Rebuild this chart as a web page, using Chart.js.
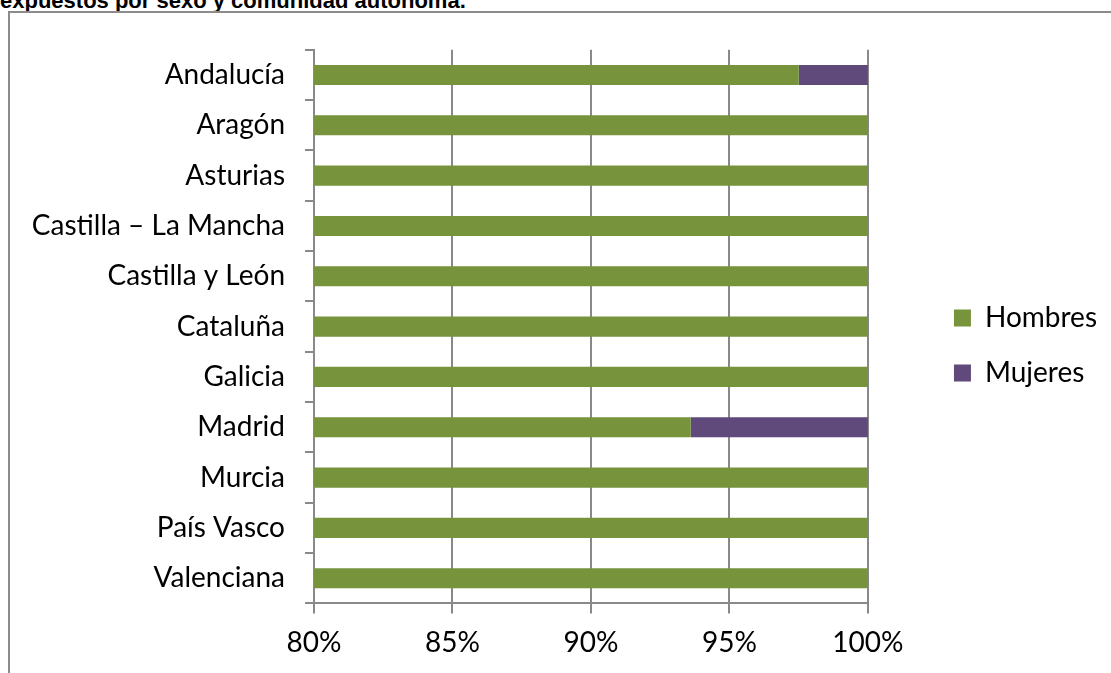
<!DOCTYPE html>
<html lang="es">
<head>
    <meta charset="UTF-8">
    <title>Expuestos por sexo y comunidad autónoma</title>
    <script src="https://cdn.jsdelivr.net/npm/chart.js@4.4.1/dist/chart.umd.min.js"></script>
    <style>
        body {
            margin: 0;
            background: #fff;
            width: 1111px;
            height: 673px;
            overflow: hidden;
            position: relative;
        }
        #title {
            position: absolute;
            left: 0;
            top: -10px;
            font-family: 'Liberation Sans', Arial, sans-serif;
            font-weight: bold;
            font-size: 22px;
            line-height: 22px;
            color: #000;
            white-space: nowrap;
        }
        #frame {
            position: absolute;
            left: 8px;
            top: 11px;
            width: 1200px;
            height: 800px;
            border: 2px solid #8c8c8c;
        }
        #chart-container {
            position: absolute;
            left: 10px;
            top: 13px;
            width: 1101px;
            height: 660px;
        }
    </style>
</head>
<body>
    <div id="title">expuestos por sexo y comunidad autónoma.</div>
    <div id="frame"></div>
    <div id="chart-container">
        <canvas id="chart"></canvas>
    </div>

    <script>
        const regions = ['Andalucía', 'Aragón', 'Asturias', 'Castilla – La Mancha', 'Castilla y León',
            'Cataluña', 'Galicia', 'Madrid', 'Murcia', 'País Vasco', 'Valenciana'];
        const hombres = [97.5, 100, 100, 100, 100, 100, 100, 93.6, 100, 100, 100];
        const mujeres = [2.5, 0, 0, 0, 0, 0, 0, 6.4, 0, 0, 0];
        const xTicks = [80, 85, 90, 95, 100];

        const axisGray = '#898989';
        const labelFont = { family: 'Lato, "Open Sans", sans-serif', size: 28 };

        // move the legend a bit away from the plot and up, like the Excel original
        const legendNudge = {
            id: 'legendNudge',
            afterLayout(chart) {
                const lg = chart.legend;
                lg.left += 59; lg.right += 59;
                lg.top -= 12; lg.bottom -= 12;
            }
        };

        const ctx = document.getElementById('chart').getContext('2d');
        new Chart(ctx, {
            type: 'bar',
            data: {
                labels: regions,
                datasets: [
                    {
                        label: 'Hombres',
                        data: hombres,
                        backgroundColor: '#77933C',
                        barPercentage: 0.4,
                        categoryPercentage: 1
                    },
                    {
                        label: 'Mujeres',
                        data: mujeres,
                        backgroundColor: '#604A7B',
                        barPercentage: 0.4,
                        categoryPercentage: 1
                    }
                ]
            },
            plugins: [legendNudge],
            options: {
                indexAxis: 'y',
                responsive: true,
                maintainAspectRatio: false,
                animation: false,
                layout: { padding: { top: 29, right: 63, bottom: 0, left: 0 } },
                plugins: {
                    legend: {
                        position: 'right',
                        labels: {
                            boxWidth: 17,
                            boxHeight: 17,
                            padding: 27,
                            color: '#000',
                            font: labelFont
                        }
                    },
                    tooltip: { enabled: false }
                },
                scales: {
                    x: {
                        stacked: true,
                        min: 80,
                        max: 100,
                        afterBuildTicks: scale => {
                            scale.ticks = xTicks.map(v => ({ value: v }));
                        },
                        ticks: {
                            color: '#000',
                            font: labelFont,
                            padding: 13,
                            callback: v => v + '%'
                        },
                        grid: {
                            color: axisGray,
                            lineWidth: 2,
                            tickLength: 10
                        },
                        border: { color: axisGray, width: 2 }
                    },
                    y: {
                        stacked: true,
                        afterFit: scale => { scale.width = 304; },
                        ticks: {
                            color: '#000',
                            font: labelFont,
                            padding: 20
                        },
                        grid: {
                            drawOnChartArea: false,
                            color: axisGray,
                            lineWidth: 2,
                            tickLength: 9
                        },
                        border: { color: axisGray, width: 2 }
                    }
                }
            }
        });
    </script>
</body>
</html>
